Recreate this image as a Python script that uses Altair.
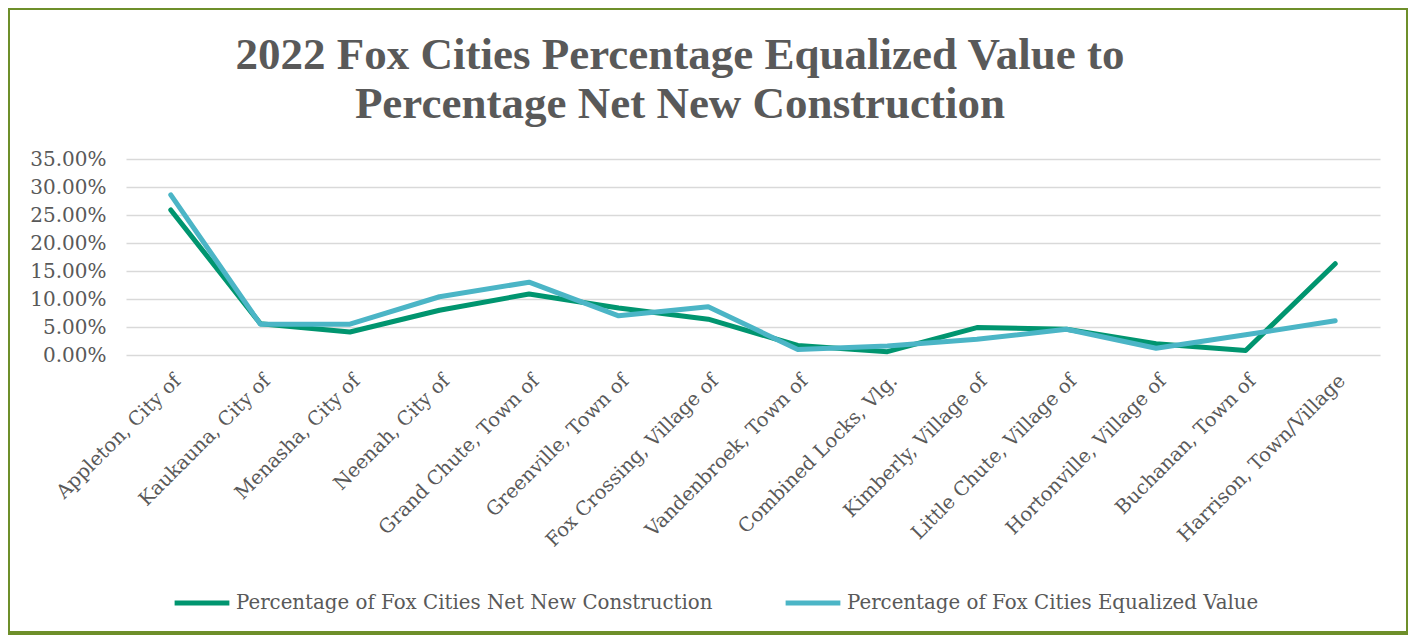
import altair as alt
import pandas as pd

categories = [
    "Appleton, City of", "Kaukauna, City of", "Menasha, City of", "Neenah, City of",
    "Grand Chute, Town of", "Greenville, Town of", "Fox Crossing, Village of",
    "Vandenbroek, Town of", "Combined Locks, Vlg.", "Kimberly, Village of",
    "Little Chute, Village of", "Hortonville, Village of", "Buchanan, Town of",
    "Harrison, Town/Village",
]
net_new_construction = [0.259, 0.056, 0.041, 0.080, 0.109, 0.084, 0.064,
                        0.017, 0.006, 0.049, 0.046, 0.020, 0.008, 0.163]
equalized_value = [0.286, 0.055, 0.055, 0.104, 0.130, 0.070, 0.086,
                   0.010, 0.016, 0.028, 0.046, 0.012, 0.036, 0.061]
series_names = ["Percentage of Fox Cities Net New Construction",
                "Percentage of Fox Cities Equalized Value"]
series_colors = ["#00956F", "#4BB5C6"]
y_ticks = [0, 0.05, 0.10, 0.15, 0.20, 0.25, 0.30, 0.35]
title_lines = ["2022 Fox Cities Percentage Equalized Value to",
               "Percentage Net New Construction"]

rows = []
for s, vals in zip(series_names, [net_new_construction, equalized_value]):
    for c, v in zip(categories, vals):
        rows.append({"Municipality": c, "Series": s, "Value": v})
df = pd.DataFrame(rows)

W, H = 1254, 196
FONT = "DejaVu Serif"
GRAY = "#595959"

lines = alt.Chart(df).mark_line(strokeWidth=5, strokeCap="round", strokeJoin="round").encode(
    x=alt.X("Municipality:N", sort=categories,
            scale=alt.Scale(type="point", padding=0.5),
            axis=alt.Axis(title=None, labelAngle=-45, labelFontSize=19.5, labelFont=FONT,
                          labelColor=GRAY, ticks=False, domain=False, labelPadding=16,
                          grid=False, labelLimit=400)),
    y=alt.Y("Value:Q", scale=alt.Scale(domain=[0, 0.35], nice=False),
            axis=alt.Axis(title=None, values=y_ticks, format=".2%", labelFontSize=20,
                          labelFont=FONT, labelColor=GRAY, ticks=False, domain=False,
                          labelPadding=20, gridColor="#D9D9D9", gridWidth=1.5)),
    color=alt.Color("Series:N", sort=series_names,
                    scale=alt.Scale(domain=series_names, range=series_colors),
                    legend=alt.Legend(title=None, orient="none", legendX=46, legendY=414,
                                      direction="horizontal", symbolType="stroke",
                                      symbolSize=3000, symbolStrokeWidth=5,
                                      labelFontSize=19.8, labelFont=FONT, labelColor=GRAY,
                                      columnPadding=62, labelOffset=4, labelLimit=600)),
    order=alt.Order("Series:N"),
)

one = alt.Data(values=[{"a": 1}])
frame = alt.Chart(one).mark_rect(filled=False, stroke="#6E8F2A", strokeWidth=4).encode(
    x=alt.value(-118), x2=alt.value(1282), y=alt.value(-151), y2=alt.value(474)
)
title1 = alt.Chart(one).mark_text(text=title_lines[0], font="Liberation Serif", fontSize=45,
                                  fontWeight="bold", color=GRAY, align="center",
                                  baseline="alphabetic").encode(
    x=alt.value(554), y=alt.value(-90))
title2 = alt.Chart(one).mark_text(text=title_lines[1], font="Liberation Serif", fontSize=45,
                                  fontWeight="bold", color=GRAY, align="center",
                                  baseline="alphabetic").encode(
    x=alt.value(554), y=alt.value(-41))

chart = alt.layer(frame, lines, title1, title2).properties(
    width=W, height=H,
    autosize=alt.AutoSizeParams(type="none"),
    padding={"left": 118, "top": 151, "right": 28, "bottom": 282},
).configure_view(stroke=None)

chart.save("out.html", embed_options={"renderer": "svg", "actions": False})
